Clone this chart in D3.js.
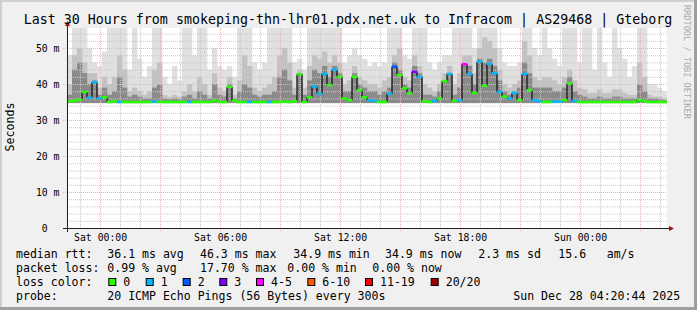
<!DOCTYPE html>
<html>
<head>
<meta charset="utf-8">
<script src="https://cdn.jsdelivr.net/npm/d3@7"></script>
<style>
  body { margin: 0; background: #f0f0f0; }
  svg { display: block; }
  text { font-family: "DejaVu Sans Mono", monospace; white-space: pre; }
</style>
</head>
<body>
<div id="chart-area"></div>
<script>
const W = 697, H = 310
const PLOT = { LEFT: 67, RIGHT: 667, TOP: 28, BOTTOM: 228 }

const title = "Last 30 Hours from smokeping-thn-lhr01.pdx.net.uk to Infracom | AS29468 | Gteborg"
const startTime = new Date(2025, 11, 26, 22, 20, 44)
const endTime = new Date(2025, 11, 28, 4, 20, 44)
const stepMinutes = 15
const yMax = 55.56
const smokeFloor = 34.7

// median rtt (ms), one value every 15 minutes
const median = [
  35.2, 35.3, 35.6, 37.8, 36.2, 40.5, 36.0, 36.3, 35.0, 35.2,
  35.0, 35.0, 35.0, 35.0, 35.0, 35.0, 35.0, 35.1, 35.0, 35.0,
  35.0, 35.0, 35.0, 35.0, 35.0, 35.0, 35.0, 35.0, 35.0, 35.4,
  35.0, 35.0, 39.2, 35.3, 35.0, 35.0, 35.0, 35.0, 35.0, 35.0,
  35.0, 35.0, 35.0, 35.1, 35.0, 35.2, 42.7, 35.0, 36.3, 39.3,
  37.3, 42.8, 39.7, 44.0, 42.0, 36.0, 35.5, 42.0, 38.3, 36.3,
  35.4, 35.3, 35.0, 35.0, 37.3, 44.8, 42.5, 38.8, 37.4, 43.4,
  42.0, 35.2, 35.0, 35.3, 36.0, 40.8, 42.8, 35.3, 35.5, 45.5,
  42.8, 37.5, 46.2, 39.5, 45.6, 43.0, 37.8, 36.5, 36.0, 37.5,
  35.5, 42.8, 38.3, 35.5, 35.2, 35.0, 35.0, 35.1, 35.1, 35.5,
  40.2, 35.3, 35.0, 35.0, 35.0, 35.0, 35.0, 35.0, 35.0, 35.0,
  35.0, 35.0, 35.0, 35.0, 35.6, 35.2, 35.0, 35.0, 35.0, 35.0
]

// lost pings out of 20
const loss = [
  0, 0, 0, 0, 1, 1, 1, 0, 0, 0,
  1, 0, 0, 0, 0, 0, 0, 1, 0, 0,
  0, 0, 0, 0, 1, 0, 0, 0, 0, 0,
  0, 0, 0, 0, 0, 0, 1, 0, 0, 0,
  1, 0, 0, 0, 0, 0, 0, 0, 0, 1,
  1, 1, 0, 1, 0, 0, 0, 0, 0, 0,
  1, 1, 0, 0, 1, 2, 0, 0, 0, 3,
  1, 0, 0, 1, 0, 0, 1, 0, 1, 4,
  1, 0, 1, 0, 1, 1, 1, 0, 1, 1,
  0, 1, 0, 1, 1, 0, 0, 1, 1, 0,
  0, 1, 0, 0, 0, 0, 0, 0, 0, 0,
  0, 0, 0, 0, 0, 0, 0, 0, 0, 0
]

// smoke: highest ping, upper band top, inner band top (ms)
const smokeHi = [
  48, 60, 60, 60, 50, 46, 45, 49, 60, 60,
  60, 60, 44, 60, 47, 42, 45, 60, 60, 42,
  40, 45, 41, 60, 60, 48, 60, 60, 44, 50,
  45, 44, 45, 42, 60, 60, 60, 46, 44, 46,
  60, 60, 60, 60, 60, 46, 47, 44, 60, 60,
  60, 60, 60, 60, 60, 46, 48, 50, 48, 47,
  45, 46, 45, 46, 60, 60, 60, 48, 47, 60,
  60, 60, 46, 44, 46, 48, 48, 60, 60, 60,
  60, 50, 60, 60, 60, 60, 50, 46, 45, 45,
  46, 60, 60, 50, 48, 60, 50, 47, 45, 60,
  60, 60, 46, 60, 60, 44, 60, 46, 42, 60,
  50, 47, 42, 45, 60, 60, 40, 40, 39, 38
]
const smokeMid = [
  40, 48, 50, 46, 43, 43, 39, 42, 40, 42,
  48, 44, 38, 39, 38, 37, 38, 44, 46, 37,
  36.5, 37, 36.5, 38, 40, 38, 42, 40, 37, 43,
  39, 38, 42, 37, 41, 48, 45, 39, 38, 39,
  40, 42, 48, 50, 46, 39, 44, 39, 45, 48,
  47, 49, 46, 48, 46, 40, 41, 45, 42, 41,
  40, 40, 39, 41, 42, 48, 50, 42, 41, 48,
  45, 40, 39, 38, 40, 43, 45, 40, 43, 48,
  48, 43, 50, 53, 52, 50, 44, 40, 39, 40,
  41, 52, 48, 42, 41, 42, 42, 41, 40, 42,
  44, 41, 39, 38.5, 37.5, 37.5, 38.5, 37.5, 37.5, 38.5,
  38.5, 37.5, 37, 37, 46, 42, 37, 36.5, 36.5, 36
]
const smokeCore = [
  37, 44, 46, 43, 40, 41, 37, 39, 37, 38,
  42, 39, 36.5, 37, 36.5, 36, 36, 39, 40, 36,
  35.8, 36, 35.8, 36.5, 37, 36, 38, 37, 36, 40,
  37, 36.5, 40, 36, 38, 40, 39, 37, 36.5, 37,
  37, 38, 42, 44, 41, 37, 43, 37, 41, 44,
  43, 45, 42, 45, 43, 38, 38, 43, 40, 39,
  38, 38, 37, 38, 39, 46, 44, 40, 39, 45,
  43, 37, 37, 36.5, 38, 41, 43, 37, 39, 45.5,
  45, 40, 47, 46, 47, 45, 41, 38, 37, 38,
  39, 46, 43, 39, 39, 39, 39, 38, 38, 39,
  42, 38, 37, 36.5, 36, 36, 36.5, 36, 36, 36.5,
  36.5, 36, 36, 36, 40, 38, 36, 36, 35.8, 35.5
]

const yTicks = [0, 10, 20, 30, 40, 50]
const yTickLabels = ["0  ", "10 m", "20 m", "30 m", "40 m", "50 m"]
const xTickTimes = [
  new Date(2025, 11, 27, 0), new Date(2025, 11, 27, 6), new Date(2025, 11, 27, 12),
  new Date(2025, 11, 27, 18), new Date(2025, 11, 28, 0)
]
const xTickLabels = ["Sat 00:00", "Sat 06:00", "Sat 12:00", "Sat 18:00", "Sun 00:00"]

const rttStats = ["36.1 ms avg", "46.3 ms max", "34.9 ms min", "34.9 ms now", "2.3 ms sd", "15.6", "am/s"]
const lossStats = ["0.99 % avg", "17.70 % max", "0.00 % min", "0.00 % now"]
const lossBins = ["0", "1", "2", "3", "4-5", "6-10", "11-19", "20/20"]
const lossMax = [0, 1, 2, 3, 5, 10, 19, 20]
const lossColors = ["#26ff00", "#00b8ff", "#0059ff", "#7e00ff", "#ff00ff", "#ff5500", "#ff0000", "#a10000"]
const probeText = "20 ICMP Echo Pings (56 Bytes) every 300s"
const stamp = "Sun Dec 28 04:20:44 2025"

const colorFor = n => lossColors[lossMax.findIndex(m => n <= m)]

const svg = d3.select("#chart-area").append("svg")
  .attr("width", W)
  .attr("height", H)

// background + shaded frame
svg.append("rect").attr("width", W).attr("height", H).attr("fill", "#f0f0f0")
svg.append("path")
  .attr("d", `M1,${H} V1 H${W}`)
  .attr("fill", "none").attr("stroke", "#cfcfcf").attr("stroke-width", 2)
svg.append("path")
  .attr("d", `M0,${H - 1.5} H${W - 1.5} V0`)
  .attr("fill", "none").attr("stroke", "#9e9e9e").attr("stroke-width", 3)

const x = d3.scaleTime()
  .domain([startTime, endTime])
  .range([PLOT.LEFT, PLOT.RIGHT])

const y = d3.scaleLinear()
  .domain([0, yMax])
  .range([PLOT.BOTTOM, PLOT.TOP])

// canvas
svg.append("rect")
  .attr("x", PLOT.LEFT).attr("y", PLOT.TOP)
  .attr("width", PLOT.RIGHT - PLOT.LEFT).attr("height", PLOT.BOTTOM - PLOT.TOP)
  .attr("fill", "#ffffff")

svg.append("clipPath").attr("id", "plot-clip")
  .append("rect")
  .attr("x", PLOT.LEFT).attr("y", PLOT.TOP)
  .attr("width", PLOT.RIGHT - PLOT.LEFT).attr("height", PLOT.BOTTOM - PLOT.TOP)

const times = median.map((d, i) => d3.timeMinute.offset(startTime, i * stepMinutes))
const x0 = i => x(times[i])
const x1 = i => x(d3.timeMinute.offset(times[i], stepMinutes))

const samples = median.map((m, i) => ({
  i: i, median: m, loss: loss[i], hi: smokeHi[i], mid: smokeMid[i], core: smokeCore[i]
}))

const g = svg.append("g").attr("clip-path", "url(#plot-clip)")

// smoke bands, lightest first
const bands = [
  { key: "hi", fill: "#e0e0e0" },
  { key: "mid", fill: "#c2c2c2" },
  { key: "core", fill: "#8a8a8a" }
]
bands.forEach(b => {
  g.append("g").selectAll("rect")
    .data(samples)
    .enter().append("rect")
      .attr("x", d => x0(d.i))
      .attr("width", d => x1(d.i) - x0(d.i) + 0.3)
      .attr("y", d => y(d[b.key]))
      .attr("height", d => y(smokeFloor) - y(d[b.key]))
      .attr("fill", b.fill)
})

// grid (drawn over the smoke like rrdtool does)
const grid = svg.append("g")
const minorY = d3.range(2, 56, 2).filter(v => v % 10 !== 0)
grid.selectAll(".gy").data(minorY).enter().append("line")
  .attr("x1", PLOT.LEFT).attr("x2", PLOT.RIGHT)
  .attr("y1", d => y(d) + 0.5).attr("y2", d => y(d) + 0.5)
  .attr("stroke", "#c8c8c8").attr("stroke-dasharray", "1,1")
const hours = x.ticks(d3.timeHour.every(1))
grid.selectAll(".gx").data(hours.filter(d => d.getHours() % 3 !== 0)).enter().append("line")
  .attr("x1", d => Math.round(x(d)) + 0.5).attr("x2", d => Math.round(x(d)) + 0.5)
  .attr("y1", PLOT.TOP).attr("y2", PLOT.BOTTOM)
  .attr("stroke", "#c8c8c8").attr("stroke-dasharray", "1,1")
grid.selectAll(".my").data(yTicks.slice(1)).enter().append("line")
  .attr("x1", PLOT.LEFT - 4).attr("x2", PLOT.RIGHT)
  .attr("y1", d => y(d) + 0.5).attr("y2", d => y(d) + 0.5)
  .attr("stroke", "#ebb4b4").attr("stroke-dasharray", "1,1")
grid.selectAll(".mx").data(hours.filter(d => d.getHours() % 3 === 0)).enter().append("line")
  .attr("x1", d => Math.round(x(d)) + 0.5).attr("x2", d => Math.round(x(d)) + 0.5)
  .attr("y1", PLOT.TOP).attr("y2", PLOT.BOTTOM + 3)
  .attr("stroke", "#ebb4b4").attr("stroke-dasharray", "1,1")

// median: dark risers, then loss-coloured treads
const med = svg.append("g").attr("clip-path", "url(#plot-clip)")
med.selectAll(".riser").data(samples.slice(1)).enter().append("line")
  .attr("x1", d => x0(d.i)).attr("x2", d => x0(d.i))
  .attr("y1", d => y(median[d.i - 1])).attr("y2", d => y(d.median))
  .attr("stroke", "#1e1e1e").attr("stroke-width", 1.4)
med.selectAll(".tread").data(samples).enter().append("line")
  .attr("x1", d => x0(d.i) - 0.3).attr("x2", d => x1(d.i) + 0.3)
  .attr("y1", d => y(d.median)).attr("y2", d => y(d.median))
  .attr("stroke", d => colorFor(d.loss)).attr("stroke-width", 2.5)

// axes
const font = { family: "DejaVu Sans Mono", size: "9.8px" }
const yAxis = svg.append("g")
  .attr("transform", `translate(${PLOT.LEFT}, 0)`)
  .call(d3.axisLeft(y).tickValues(yTicks).tickFormat((d, i) => yTickLabels[i]).tickSize(0).tickPadding(7.5))
yAxis.select(".domain").remove()
yAxis.selectAll("text")
  .attr("font-family", font.family).attr("font-size", font.size).attr("fill", "#000")
  .attr("dy", "0.36em")

const xAxis = svg.append("g")
  .attr("transform", `translate(0, ${PLOT.BOTTOM})`)
  .call(d3.axisBottom(x).tickValues(xTickTimes).tickFormat((d, i) => xTickLabels[i]).tickSize(0))
xAxis.select(".domain").remove()
xAxis.selectAll("text")
  .attr("font-family", font.family).attr("font-size", font.size).attr("fill", "#000")
  .attr("y", 13).attr("dy", 0)

// axis lines and arrows
svg.append("line")
  .attr("x1", PLOT.LEFT - 4).attr("x2", PLOT.RIGHT + 3)
  .attr("y1", PLOT.BOTTOM + 0.5).attr("y2", PLOT.BOTTOM + 0.5)
  .attr("stroke", "#202020")
svg.append("line")
  .attr("x1", PLOT.LEFT + 0.5).attr("x2", PLOT.LEFT + 0.5)
  .attr("y1", PLOT.BOTTOM + 4).attr("y2", PLOT.TOP - 3)
  .attr("stroke", "#202020")
svg.append("path")
  .attr("d", `M${PLOT.RIGHT + 2},${PLOT.BOTTOM - 2} L${PLOT.RIGHT + 7},${PLOT.BOTTOM + 0.5} L${PLOT.RIGHT + 2},${PLOT.BOTTOM + 3}Z`)
  .attr("fill", "#a01010")
svg.append("path")
  .attr("d", `M${PLOT.LEFT - 2},${PLOT.TOP - 2} L${PLOT.LEFT + 0.5},${PLOT.TOP - 7} L${PLOT.LEFT + 3},${PLOT.TOP - 2}Z`)
  .attr("fill", "#a01010")

// title and labels
svg.append("text")
  .attr("x", 348).attr("y", 23.5)
  .attr("text-anchor", "middle")
  .attr("font-size", "13.3px")
  .attr("fill", "#000")
  .text(title)

svg.append("text")
  .attr("transform", "translate(14, 127) rotate(-90)")
  .attr("text-anchor", "middle")
  .attr("font-size", "11.6px")
  .attr("fill", "#000")
  .text("Seconds")

svg.append("text")
  .attr("transform", "translate(684, 5) rotate(90)")
  .attr("font-size", "8.6px")
  .attr("fill", "#acacac")
  .text("RRDTOOL / TOBI OETIKER")

// legend
const legend = svg.append("g").attr("font-size", "11.55px").attr("fill", "#000")
const rowY = [258, 272, 286, 299.5]
const LX = 16
const statX = [107.3, 200, 293.3, 385, 478.3, 558.3, 606.7]
const lossX = [107.3, 200, 287.3, 372.3]
const swatchX = [108.3, 145.7, 182.7, 219.3, 256, 307.3, 365, 430.7]

legend.append("text").attr("x", LX).attr("y", rowY[0]).text("median rtt:")
legend.selectAll(".rtt").data(rttStats).enter().append("text")
  .attr("x", (d, i) => statX[i]).attr("y", rowY[0]).text(d => d)

legend.append("text").attr("x", LX).attr("y", rowY[1]).text("packet loss:")
legend.selectAll(".pl").data(lossStats).enter().append("text")
  .attr("x", (d, i) => lossX[i]).attr("y", rowY[1]).text(d => d)

legend.append("text").attr("x", LX).attr("y", rowY[2]).text("loss color:")
legend.selectAll(".sw").data(lossBins).enter().append("rect")
  .attr("x", (d, i) => swatchX[i] + 0.5).attr("y", rowY[2] - 7.5)
  .attr("width", 7).attr("height", 7)
  .attr("fill", (d, i) => lossColors[i])
  .attr("stroke", "#000").attr("stroke-width", 1)
legend.selectAll(".swl").data(lossBins).enter().append("text")
  .attr("x", (d, i) => swatchX[i] + 15).attr("y", rowY[2]).text(d => d)

legend.append("text").attr("x", LX).attr("y", rowY[3]).text("probe:")
legend.append("text").attr("x", 107.3).attr("y", rowY[3]).text(probeText)
legend.append("text").attr("x", 513.3).attr("y", rowY[3]).text(stamp)
</script>
</body>
</html>
